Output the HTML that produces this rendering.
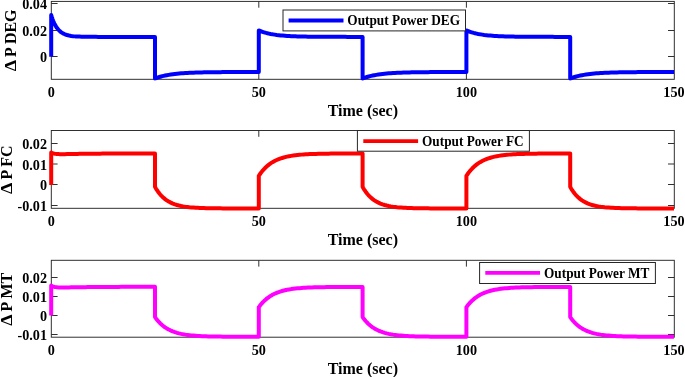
<!DOCTYPE html><html><head><meta charset="utf-8"><style>html,body{margin:0;padding:0;background:#fff;width:685px;height:377px;overflow:hidden}svg{display:block;filter:blur(0.3px)}text{font-family:"Liberation Serif",serif;font-weight:bold}</style></head><body>
<svg width="685" height="377" viewBox="0 0 685 377">
<path d="M51.3,3.50h6.3M674.3,3.50h-6.3M51.3,30.50h6.3M674.3,30.50h-6.3M51.3,56.50h6.3M674.3,56.50h-6.3M258.80,1.4v6.3M258.80,79.3v-6.3M466.40,1.4v6.3M466.40,79.3v-6.3" stroke="#262626" stroke-width="0.95" fill="none"/>
<rect x="51.3" y="1.4" width="623.00" height="77.90" fill="none" stroke="#262626" stroke-width="0.95"/>
<polyline points="51.20,56.65 51.20,15.01 51.41,15.71 51.62,16.38 51.85,17.13 52.13,17.95 52.44,18.86 52.81,19.85 53.22,20.92 53.71,22.07 54.26,23.29 54.89,24.57 55.62,25.89 56.46,27.23 57.43,28.58 58.54,29.90 59.82,31.16 61.29,32.33 62.97,33.38 64.92,34.30 66.99,35.01 69.07,35.53 71.15,35.91 73.22,36.18 75.30,36.38 77.37,36.52 79.45,36.62 81.53,36.70 83.60,36.75 85.68,36.79 87.75,36.82 89.83,36.84 91.91,36.85 93.98,36.86 96.06,36.87 98.13,36.88 100.21,36.88 102.29,36.88 104.36,36.89 106.44,36.89 108.51,36.89 110.59,36.89 112.67,36.89 114.74,36.89 116.82,36.89 118.89,36.89 120.97,36.89 123.05,36.89 125.12,36.89 127.20,36.89 129.27,36.89 131.35,36.89 133.43,36.89 135.50,36.89 137.58,36.89 139.65,36.89 141.73,36.89 143.81,36.89 145.88,36.89 147.96,36.89 150.03,36.89 152.11,36.89 154.19,36.89 155.00,36.89 155.00,78.50 155.21,78.42 155.42,78.34 155.65,78.25 155.93,78.15 156.24,78.03 156.61,77.90 157.02,77.76 157.51,77.59 158.06,77.41 158.69,77.21 159.42,76.98 160.26,76.74 161.23,76.47 162.34,76.18 163.62,75.87 165.09,75.55 166.77,75.20 168.72,74.85 170.79,74.52 172.87,74.22 174.95,73.96 177.02,73.73 179.10,73.53 181.17,73.35 183.25,73.19 185.33,73.05 187.40,72.93 189.48,72.82 191.55,72.72 193.63,72.64 195.71,72.57 197.78,72.50 199.86,72.44 201.93,72.39 204.01,72.34 206.09,72.30 208.16,72.27 210.24,72.24 212.31,72.21 214.39,72.19 216.47,72.17 218.54,72.15 220.62,72.13 222.69,72.12 224.77,72.10 226.85,72.09 228.92,72.08 231.00,72.07 233.07,72.06 235.15,72.06 237.23,72.05 239.30,72.05 241.38,72.04 243.45,72.04 245.53,72.03 247.61,72.03 249.68,72.03 251.76,72.02 253.83,72.02 255.91,72.02 257.99,72.02 258.80,72.02 258.80,30.40 259.01,30.48 259.22,30.57 259.45,30.67 259.73,30.79 260.04,30.91 260.41,31.06 260.82,31.22 261.31,31.40 261.86,31.60 262.49,31.82 263.22,32.06 264.06,32.32 265.03,32.61 266.14,32.92 267.42,33.24 268.89,33.58 270.57,33.94 272.52,34.30 274.59,34.63 276.67,34.93 278.75,35.18 280.82,35.40 282.90,35.60 284.97,35.76 287.05,35.91 289.13,36.04 291.20,36.15 293.28,36.25 295.35,36.33 297.43,36.40 299.51,36.47 301.58,36.52 303.66,36.57 305.73,36.61 307.81,36.65 309.89,36.68 311.96,36.71 314.04,36.73 316.11,36.75 318.19,36.77 320.27,36.79 322.34,36.80 324.42,36.81 326.49,36.82 328.57,36.83 330.65,36.84 332.72,36.85 334.80,36.85 336.87,36.86 338.95,36.86 341.03,36.87 343.10,36.87 345.18,36.87 347.25,36.88 349.33,36.88 351.41,36.88 353.48,36.88 355.56,36.88 357.63,36.88 359.71,36.89 361.79,36.89 362.60,36.89 362.60,78.50 362.81,78.42 363.02,78.34 363.25,78.25 363.53,78.15 363.84,78.03 364.21,77.90 364.62,77.76 365.11,77.59 365.66,77.41 366.29,77.21 367.02,76.98 367.86,76.74 368.83,76.47 369.94,76.18 371.22,75.87 372.69,75.55 374.37,75.20 376.32,74.85 378.39,74.52 380.47,74.22 382.55,73.96 384.62,73.73 386.70,73.53 388.77,73.35 390.85,73.19 392.93,73.05 395.00,72.93 397.08,72.82 399.15,72.72 401.23,72.64 403.31,72.57 405.38,72.50 407.46,72.44 409.53,72.39 411.61,72.34 413.69,72.30 415.76,72.27 417.84,72.24 419.91,72.21 421.99,72.19 424.07,72.17 426.14,72.15 428.22,72.13 430.29,72.12 432.37,72.10 434.45,72.09 436.52,72.08 438.60,72.07 440.67,72.06 442.75,72.06 444.83,72.05 446.90,72.05 448.98,72.04 451.05,72.04 453.13,72.03 455.21,72.03 457.28,72.03 459.36,72.02 461.43,72.02 463.51,72.02 465.59,72.02 466.40,72.02 466.40,30.40 466.61,30.48 466.82,30.57 467.05,30.67 467.33,30.79 467.64,30.91 468.01,31.06 468.42,31.22 468.91,31.40 469.46,31.60 470.09,31.82 470.82,32.06 471.66,32.32 472.63,32.61 473.74,32.92 475.02,33.24 476.49,33.58 478.17,33.94 480.12,34.30 482.19,34.63 484.27,34.93 486.35,35.18 488.42,35.40 490.50,35.60 492.57,35.76 494.65,35.91 496.73,36.04 498.80,36.15 500.88,36.25 502.95,36.33 505.03,36.40 507.11,36.47 509.18,36.52 511.26,36.57 513.33,36.61 515.41,36.65 517.49,36.68 519.56,36.71 521.64,36.73 523.71,36.75 525.79,36.77 527.87,36.79 529.94,36.80 532.02,36.81 534.09,36.82 536.17,36.83 538.25,36.84 540.32,36.85 542.40,36.85 544.47,36.86 546.55,36.86 548.63,36.87 550.70,36.87 552.78,36.87 554.85,36.88 556.93,36.88 559.01,36.88 561.08,36.88 563.16,36.88 565.23,36.88 567.31,36.89 569.39,36.89 570.20,36.89 570.20,78.50 570.41,78.42 570.62,78.34 570.85,78.25 571.13,78.15 571.44,78.03 571.81,77.90 572.22,77.76 572.71,77.59 573.26,77.41 573.89,77.21 574.62,76.98 575.46,76.74 576.43,76.47 577.54,76.18 578.82,75.87 580.29,75.55 581.97,75.20 583.92,74.85 585.99,74.52 588.07,74.22 590.15,73.96 592.22,73.73 594.30,73.53 596.37,73.35 598.45,73.19 600.53,73.05 602.60,72.93 604.68,72.82 606.75,72.72 608.83,72.64 610.91,72.57 612.98,72.50 615.06,72.44 617.13,72.39 619.21,72.34 621.29,72.30 623.36,72.27 625.44,72.24 627.51,72.21 629.59,72.19 631.67,72.17 633.74,72.15 635.82,72.13 637.89,72.12 639.97,72.10 642.05,72.09 644.12,72.08 646.20,72.07 648.27,72.06 650.35,72.06 652.43,72.05 654.50,72.05 656.58,72.04 658.65,72.04 660.73,72.03 662.81,72.03 664.88,72.03 666.96,72.02 669.03,72.02 671.11,72.02 673.19,72.02 674.00,72.02" fill="none" stroke="#0000ff" stroke-width="4" stroke-linejoin="round" stroke-linecap="butt"/>
<rect x="283.0" y="10.0" width="182.50" height="20.90" fill="#fff" stroke="#262626" stroke-width="1"/>
<line x1="288.6" y1="20.5" x2="343.5" y2="20.5" stroke="#0000ff" stroke-width="3.8"/>
<text transform="translate(347.3,25.2) scale(1,1.15)" x="0" y="0" font-size="13.3">Output Power DEG</text>
<text x="47.0" y="9.20" font-size="14.2" text-anchor="end" fill="#000">0.04</text>
<text x="47.0" y="36.20" font-size="14.2" text-anchor="end" fill="#000">0.02</text>
<text x="47.0" y="62.20" font-size="14.2" text-anchor="end" fill="#000">0</text>
<text x="51.20" y="97.00" font-size="14.2" text-anchor="middle" fill="#000">0</text>
<text x="258.80" y="97.00" font-size="14.2" text-anchor="middle" fill="#000">50</text>
<text x="466.40" y="97.00" font-size="14.2" text-anchor="middle" fill="#000">100</text>
<text x="674.00" y="97.00" font-size="14.2" text-anchor="middle" fill="#000">150</text>
<text x="362.8" y="115.70" font-size="16" text-anchor="middle" fill="#000">Time (sec)</text>
<g transform="translate(16.4,56.7) rotate(-90)" fill="#000"><text x="-0.32" y="0" font-size="16">P DEG</text><text transform="translate(-14.4,0) scale(1.10,1)" x="-0.165" y="0" font-size="16.5">Δ</text></g>
<path d="M51.3,143.50h6.3M674.3,143.50h-6.3M51.3,164.00h6.3M674.3,164.00h-6.3M51.3,184.50h6.3M674.3,184.50h-6.3M51.3,205.50h6.3M674.3,205.50h-6.3M258.80,130.5v6.3M258.80,208.3v-6.3M466.40,130.5v6.3M466.40,208.3v-6.3" stroke="#262626" stroke-width="0.95" fill="none"/>
<rect x="51.3" y="130.5" width="623.00" height="77.80" fill="none" stroke="#262626" stroke-width="0.95"/>
<polyline points="51.20,185.00 51.20,152.51 51.41,152.63 51.62,152.74 51.85,152.86 52.13,152.98 52.44,153.11 52.81,153.25 53.22,153.38 53.71,153.52 54.26,153.65 54.89,153.77 55.62,153.88 56.46,153.98 57.43,154.06 58.54,154.11 59.82,154.15 61.29,154.16 62.97,154.15 64.92,154.13 66.99,154.10 69.07,154.06 71.15,154.02 73.22,153.98 75.30,153.94 77.37,153.91 79.45,153.87 81.53,153.84 83.60,153.81 85.68,153.78 87.75,153.76 89.83,153.73 91.91,153.71 93.98,153.68 96.06,153.66 98.13,153.64 100.21,153.63 102.29,153.61 104.36,153.59 106.44,153.58 108.51,153.56 110.59,153.55 112.67,153.54 114.74,153.52 116.82,153.51 118.89,153.50 120.97,153.49 123.05,153.48 125.12,153.48 127.20,153.47 129.27,153.46 131.35,153.45 133.43,153.45 135.50,153.44 137.58,153.43 139.65,153.43 141.73,153.42 143.81,153.42 145.88,153.41 147.96,153.41 150.03,153.40 152.11,153.40 154.19,153.40 155.00,153.40 155.00,186.87 155.21,187.24 155.42,187.60 155.65,188.01 155.93,188.47 156.24,188.99 156.61,189.57 157.02,190.21 157.51,190.92 158.06,191.71 158.69,192.57 159.42,193.51 160.26,194.51 161.23,195.59 162.34,196.72 163.62,197.90 165.09,199.12 166.77,200.34 168.72,201.55 170.79,202.64 172.87,203.56 174.95,204.34 177.02,204.99 179.10,205.54 181.17,206.00 183.25,206.39 185.33,206.72 187.40,206.99 189.48,207.23 191.55,207.42 193.63,207.59 195.71,207.72 197.78,207.84 199.86,207.94 201.93,208.02 204.01,208.09 206.09,208.15 208.16,208.20 210.24,208.24 212.31,208.27 214.39,208.30 216.47,208.33 218.54,208.35 220.62,208.37 222.69,208.38 224.77,208.39 226.85,208.40 228.92,208.41 231.00,208.42 233.07,208.43 235.15,208.43 237.23,208.44 239.30,208.44 241.38,208.44 243.45,208.44 245.53,208.45 247.61,208.45 249.68,208.45 251.76,208.45 253.83,208.45 255.91,208.45 257.99,208.45 258.80,208.45 258.80,175.87 259.01,175.55 259.22,175.23 259.45,174.88 259.73,174.48 260.04,174.03 260.41,173.52 260.82,172.95 261.31,172.32 261.86,171.61 262.49,170.83 263.22,169.98 264.06,169.05 265.03,168.05 266.14,166.98 267.42,165.84 268.89,164.65 270.57,163.42 272.52,162.17 274.59,161.01 276.67,160.00 278.75,159.13 280.82,158.37 282.90,157.72 284.97,157.15 287.05,156.65 289.13,156.23 291.20,155.86 293.28,155.54 295.35,155.26 297.43,155.02 299.51,154.81 301.58,154.63 303.66,154.47 305.73,154.33 307.81,154.21 309.89,154.11 311.96,154.02 314.04,153.95 316.11,153.88 318.19,153.82 320.27,153.77 322.34,153.73 324.42,153.69 326.49,153.66 328.57,153.63 330.65,153.60 332.72,153.58 334.80,153.56 336.87,153.55 338.95,153.54 341.03,153.52 343.10,153.51 345.18,153.50 347.25,153.50 349.33,153.49 351.41,153.48 353.48,153.48 355.56,153.47 357.63,153.47 359.71,153.47 361.79,153.46 362.60,153.46 362.60,186.87 362.81,187.24 363.02,187.60 363.25,188.01 363.53,188.47 363.84,188.99 364.21,189.57 364.62,190.21 365.11,190.92 365.66,191.71 366.29,192.57 367.02,193.51 367.86,194.51 368.83,195.59 369.94,196.72 371.22,197.90 372.69,199.12 374.37,200.34 376.32,201.55 378.39,202.64 380.47,203.56 382.55,204.34 384.62,204.99 386.70,205.54 388.77,206.00 390.85,206.39 392.93,206.72 395.00,206.99 397.08,207.23 399.15,207.42 401.23,207.59 403.31,207.72 405.38,207.84 407.46,207.94 409.53,208.02 411.61,208.09 413.69,208.15 415.76,208.20 417.84,208.24 419.91,208.27 421.99,208.30 424.07,208.33 426.14,208.35 428.22,208.37 430.29,208.38 432.37,208.39 434.45,208.40 436.52,208.41 438.60,208.42 440.67,208.43 442.75,208.43 444.83,208.44 446.90,208.44 448.98,208.44 451.05,208.44 453.13,208.45 455.21,208.45 457.28,208.45 459.36,208.45 461.43,208.45 463.51,208.45 465.59,208.45 466.40,208.45 466.40,175.87 466.61,175.55 466.82,175.23 467.05,174.88 467.33,174.48 467.64,174.03 468.01,173.52 468.42,172.95 468.91,172.32 469.46,171.61 470.09,170.83 470.82,169.98 471.66,169.05 472.63,168.05 473.74,166.98 475.02,165.84 476.49,164.65 478.17,163.42 480.12,162.17 482.19,161.01 484.27,160.00 486.35,159.13 488.42,158.37 490.50,157.72 492.57,157.15 494.65,156.65 496.73,156.23 498.80,155.86 500.88,155.54 502.95,155.26 505.03,155.02 507.11,154.81 509.18,154.63 511.26,154.47 513.33,154.33 515.41,154.21 517.49,154.11 519.56,154.02 521.64,153.95 523.71,153.88 525.79,153.82 527.87,153.77 529.94,153.73 532.02,153.69 534.09,153.66 536.17,153.63 538.25,153.60 540.32,153.58 542.40,153.56 544.47,153.55 546.55,153.54 548.63,153.52 550.70,153.51 552.78,153.50 554.85,153.50 556.93,153.49 559.01,153.48 561.08,153.48 563.16,153.47 565.23,153.47 567.31,153.47 569.39,153.46 570.20,153.46 570.20,186.87 570.41,187.24 570.62,187.60 570.85,188.01 571.13,188.47 571.44,188.99 571.81,189.57 572.22,190.21 572.71,190.92 573.26,191.71 573.89,192.57 574.62,193.51 575.46,194.51 576.43,195.59 577.54,196.72 578.82,197.90 580.29,199.12 581.97,200.34 583.92,201.55 585.99,202.64 588.07,203.56 590.15,204.34 592.22,204.99 594.30,205.54 596.37,206.00 598.45,206.39 600.53,206.72 602.60,206.99 604.68,207.23 606.75,207.42 608.83,207.59 610.91,207.72 612.98,207.84 615.06,207.94 617.13,208.02 619.21,208.09 621.29,208.15 623.36,208.20 625.44,208.24 627.51,208.27 629.59,208.30 631.67,208.33 633.74,208.35 635.82,208.37 637.89,208.38 639.97,208.39 642.05,208.40 644.12,208.41 646.20,208.42 648.27,208.43 650.35,208.43 652.43,208.44 654.50,208.44 656.58,208.44 658.65,208.44 660.73,208.45 662.81,208.45 664.88,208.45 666.96,208.45 669.03,208.45 671.11,208.45 673.19,208.45 674.00,208.45" fill="none" stroke="#ff0000" stroke-width="4" stroke-linejoin="round" stroke-linecap="butt"/>
<rect x="357.4" y="130.5" width="172.00" height="20.70" fill="#fff" stroke="#262626" stroke-width="1"/>
<line x1="363.3" y1="141.1" x2="418.1" y2="141.1" stroke="#ff0000" stroke-width="3.8"/>
<text transform="translate(422.0,145.5) scale(1,1.15)" x="0" y="0" font-size="13.3">Output Power FC</text>
<text x="47.0" y="149.20" font-size="14.2" text-anchor="end" fill="#000">0.02</text>
<text x="47.0" y="169.70" font-size="14.2" text-anchor="end" fill="#000">0.01</text>
<text x="47.0" y="190.20" font-size="14.2" text-anchor="end" fill="#000">0</text>
<text x="47.0" y="211.20" font-size="14.2" text-anchor="end" fill="#000">-0.01</text>
<text x="51.20" y="226.00" font-size="14.2" text-anchor="middle" fill="#000">0</text>
<text x="258.80" y="226.00" font-size="14.2" text-anchor="middle" fill="#000">50</text>
<text x="466.40" y="226.00" font-size="14.2" text-anchor="middle" fill="#000">100</text>
<text x="674.00" y="226.00" font-size="14.2" text-anchor="middle" fill="#000">150</text>
<text x="362.8" y="244.70" font-size="16" text-anchor="middle" fill="#000">Time (sec)</text>
<g transform="translate(11.9,179.3) rotate(-90)" fill="#000"><text x="-0.32" y="0" font-size="16">P FC</text><text transform="translate(-14.4,0) scale(1.10,1)" x="-0.165" y="0" font-size="16.5">Δ</text></g>
<path d="M51.3,277.50h6.3M674.3,277.50h-6.3M51.3,296.50h6.3M674.3,296.50h-6.3M51.3,315.50h6.3M674.3,315.50h-6.3M51.3,334.50h6.3M674.3,334.50h-6.3M258.80,260.3v6.3M258.80,337.2v-6.3M466.40,260.3v6.3M466.40,337.2v-6.3" stroke="#262626" stroke-width="0.95" fill="none"/>
<rect x="51.3" y="260.3" width="623.00" height="76.90" fill="none" stroke="#262626" stroke-width="0.95"/>
<polyline points="51.20,315.55 51.20,285.59 51.41,285.72 51.62,285.85 51.85,285.98 52.13,286.12 52.44,286.26 52.81,286.41 53.22,286.56 53.71,286.72 54.26,286.86 54.89,287.00 55.62,287.13 56.46,287.24 57.43,287.33 58.54,287.39 59.82,287.44 61.29,287.46 62.97,287.46 64.92,287.45 66.99,287.42 69.07,287.38 71.15,287.35 73.22,287.31 75.30,287.28 77.37,287.25 79.45,287.22 81.53,287.19 83.60,287.16 85.68,287.13 87.75,287.11 89.83,287.09 91.91,287.06 93.98,287.04 96.06,287.03 98.13,287.01 100.21,286.99 102.29,286.98 104.36,286.96 106.44,286.95 108.51,286.93 110.59,286.92 112.67,286.91 114.74,286.90 116.82,286.89 118.89,286.88 120.97,286.87 123.05,286.86 125.12,286.85 127.20,286.85 129.27,286.84 131.35,286.83 133.43,286.83 135.50,286.82 137.58,286.82 139.65,286.81 141.73,286.81 143.81,286.80 145.88,286.80 147.96,286.79 150.03,286.79 152.11,286.79 154.19,286.78 155.00,286.78 155.00,317.07 155.21,317.36 155.42,317.66 155.65,317.99 155.93,318.36 156.24,318.78 156.61,319.25 157.02,319.78 157.51,320.36 158.06,321.01 158.69,321.72 159.42,322.51 160.26,323.36 161.23,324.27 162.34,325.24 163.62,326.27 165.09,327.34 166.77,328.44 168.72,329.54 170.79,330.56 172.87,331.43 174.95,332.19 177.02,332.83 179.10,333.39 181.17,333.87 183.25,334.28 185.33,334.63 187.40,334.93 189.48,335.19 191.55,335.42 193.63,335.61 195.71,335.77 197.78,335.92 199.86,336.04 201.93,336.14 204.01,336.23 206.09,336.31 208.16,336.38 210.24,336.44 212.31,336.48 214.39,336.53 216.47,336.56 218.54,336.59 220.62,336.62 222.69,336.64 224.77,336.66 226.85,336.68 228.92,336.70 231.00,336.71 233.07,336.72 235.15,336.73 237.23,336.74 239.30,336.74 241.38,336.75 243.45,336.75 245.53,336.76 247.61,336.76 249.68,336.77 251.76,336.77 253.83,336.77 255.91,336.77 257.99,336.77 258.80,336.78 258.80,307.21 259.01,306.92 259.22,306.64 259.45,306.31 259.73,305.95 260.04,305.54 260.41,305.08 260.82,304.57 261.31,304.00 261.86,303.36 262.49,302.66 263.22,301.88 264.06,301.04 265.03,300.14 266.14,299.16 267.42,298.13 268.89,297.06 270.57,295.94 272.52,294.81 274.59,293.76 276.67,292.85 278.75,292.06 280.82,291.38 282.90,290.78 284.97,290.27 287.05,289.82 289.13,289.44 291.20,289.10 293.28,288.81 295.35,288.56 297.43,288.34 299.51,288.15 301.58,287.99 303.66,287.85 305.73,287.72 307.81,287.62 309.89,287.52 311.96,287.44 314.04,287.37 316.11,287.31 318.19,287.26 320.27,287.22 322.34,287.18 324.42,287.14 326.49,287.11 328.57,287.09 330.65,287.06 332.72,287.05 334.80,287.03 336.87,287.01 338.95,287.00 341.03,286.99 343.10,286.98 345.18,286.97 347.25,286.97 349.33,286.96 351.41,286.96 353.48,286.95 355.56,286.95 357.63,286.94 359.71,286.94 361.79,286.94 362.60,286.94 362.60,317.07 362.81,317.36 363.02,317.66 363.25,317.99 363.53,318.36 363.84,318.78 364.21,319.25 364.62,319.78 365.11,320.36 365.66,321.01 366.29,321.72 367.02,322.51 367.86,323.36 368.83,324.27 369.94,325.24 371.22,326.27 372.69,327.34 374.37,328.44 376.32,329.54 378.39,330.56 380.47,331.43 382.55,332.19 384.62,332.83 386.70,333.39 388.77,333.87 390.85,334.28 392.93,334.63 395.00,334.93 397.08,335.19 399.15,335.42 401.23,335.61 403.31,335.77 405.38,335.92 407.46,336.04 409.53,336.14 411.61,336.23 413.69,336.31 415.76,336.38 417.84,336.44 419.91,336.48 421.99,336.53 424.07,336.56 426.14,336.59 428.22,336.62 430.29,336.64 432.37,336.66 434.45,336.68 436.52,336.70 438.60,336.71 440.67,336.72 442.75,336.73 444.83,336.74 446.90,336.74 448.98,336.75 451.05,336.75 453.13,336.76 455.21,336.76 457.28,336.77 459.36,336.77 461.43,336.77 463.51,336.77 465.59,336.77 466.40,336.78 466.40,307.21 466.61,306.92 466.82,306.64 467.05,306.31 467.33,305.95 467.64,305.54 468.01,305.08 468.42,304.57 468.91,304.00 469.46,303.36 470.09,302.66 470.82,301.88 471.66,301.04 472.63,300.14 473.74,299.16 475.02,298.13 476.49,297.06 478.17,295.94 480.12,294.81 482.19,293.76 484.27,292.85 486.35,292.06 488.42,291.38 490.50,290.78 492.57,290.27 494.65,289.82 496.73,289.44 498.80,289.10 500.88,288.81 502.95,288.56 505.03,288.34 507.11,288.15 509.18,287.99 511.26,287.85 513.33,287.72 515.41,287.62 517.49,287.52 519.56,287.44 521.64,287.37 523.71,287.31 525.79,287.26 527.87,287.22 529.94,287.18 532.02,287.14 534.09,287.11 536.17,287.09 538.25,287.06 540.32,287.05 542.40,287.03 544.47,287.01 546.55,287.00 548.63,286.99 550.70,286.98 552.78,286.97 554.85,286.97 556.93,286.96 559.01,286.96 561.08,286.95 563.16,286.95 565.23,286.94 567.31,286.94 569.39,286.94 570.20,286.94 570.20,317.07 570.41,317.36 570.62,317.66 570.85,317.99 571.13,318.36 571.44,318.78 571.81,319.25 572.22,319.78 572.71,320.36 573.26,321.01 573.89,321.72 574.62,322.51 575.46,323.36 576.43,324.27 577.54,325.24 578.82,326.27 580.29,327.34 581.97,328.44 583.92,329.54 585.99,330.56 588.07,331.43 590.15,332.19 592.22,332.83 594.30,333.39 596.37,333.87 598.45,334.28 600.53,334.63 602.60,334.93 604.68,335.19 606.75,335.42 608.83,335.61 610.91,335.77 612.98,335.92 615.06,336.04 617.13,336.14 619.21,336.23 621.29,336.31 623.36,336.38 625.44,336.44 627.51,336.48 629.59,336.53 631.67,336.56 633.74,336.59 635.82,336.62 637.89,336.64 639.97,336.66 642.05,336.68 644.12,336.70 646.20,336.71 648.27,336.72 650.35,336.73 652.43,336.74 654.50,336.74 656.58,336.75 658.65,336.75 660.73,336.76 662.81,336.76 664.88,336.77 666.96,336.77 669.03,336.77 671.11,336.77 673.19,336.77 674.00,336.78" fill="none" stroke="#ff00ff" stroke-width="4" stroke-linejoin="round" stroke-linecap="butt"/>
<rect x="479.6" y="262.5" width="175.80" height="21.00" fill="#fff" stroke="#262626" stroke-width="1"/>
<line x1="485.3" y1="272.9" x2="540.0" y2="272.9" stroke="#ff00ff" stroke-width="3.8"/>
<text transform="translate(544.0,277.5) scale(1,1.15)" x="0" y="0" font-size="13.3">Output Power MT</text>
<text x="47.0" y="283.20" font-size="14.2" text-anchor="end" fill="#000">0.02</text>
<text x="47.0" y="302.20" font-size="14.2" text-anchor="end" fill="#000">0.01</text>
<text x="47.0" y="321.20" font-size="14.2" text-anchor="end" fill="#000">0</text>
<text x="47.0" y="340.20" font-size="14.2" text-anchor="end" fill="#000">-0.01</text>
<text x="51.20" y="354.90" font-size="14.2" text-anchor="middle" fill="#000">0</text>
<text x="258.80" y="354.90" font-size="14.2" text-anchor="middle" fill="#000">50</text>
<text x="466.40" y="354.90" font-size="14.2" text-anchor="middle" fill="#000">100</text>
<text x="674.00" y="354.90" font-size="14.2" text-anchor="middle" fill="#000">150</text>
<text x="362.8" y="373.60" font-size="16" text-anchor="middle" fill="#000">Time (sec)</text>
<g transform="translate(11.9,311.1) rotate(-90)" fill="#000"><text x="-0.32" y="0" font-size="16">P MT</text><text transform="translate(-14.4,0) scale(1.10,1)" x="-0.165" y="0" font-size="16.5">Δ</text></g>
</svg></body></html>
